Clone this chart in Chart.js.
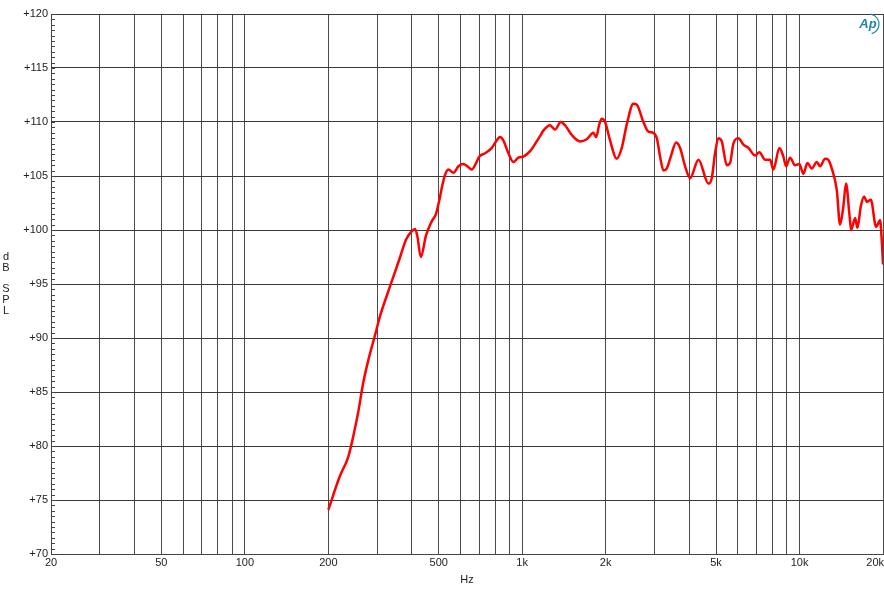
<!DOCTYPE html>
<html>
<head>
<meta charset="utf-8">
<script src="https://cdn.jsdelivr.net/npm/chart.js@4.4.0/dist/chart.umd.min.js"></script>
<style>
  html, body { margin: 0; padding: 0; background: #fff; }
  #wrap { width: 884px; height: 600px; }
</style>
</head>
<body>
<div id="wrap"><canvas id="chart" width="884" height="600"></canvas></div>
<script>
// frequency response
const freqHz = [200, 220, 236, 246, 257, 267, 279, 295, 307, 334, 363, 381, 400, 411, 419, 431, 450, 472, 489, 503,
  513, 527, 542, 565, 589, 614, 634, 658, 676, 701, 735, 777, 805, 832, 855, 892, 930, 969, 1010, 1068, 1128, 1160,
  1192, 1261, 1314, 1378, 1428,
  1509, 1617, 1709, 1806, 1847, 1898, 1936, 1990, 2074, 2193, 2286, 2384, 2518, 2590, 2736, 2852, 2972, 3058,
  3142, 3230, 3322, 3434, 3590, 3710, 3868, 4032, 4320, 4694, 4826, 4960, 5098, 5244, 5468, 5618, 5774, 6020,
  6276, 6542, 6916, 7168, 7514, 7832, 8050, 8462, 8746, 8946, 9248, 9638, 9988, 10326, 10674, 11070, 11540,
  11862, 12364, 12706, 13070, 13624, 14002, 14392, 14716, 15126, 15348, 15866, 16174, 16636, 17100, 17486,
  18074, 18886, 19526, 19800, 20000];
const splDb = [74.1, 77.2, 79.0, 80.9, 83.3, 85.8, 88.0, 90.3, 92.0, 94.8, 97.5, 99.1, 99.9, 100.1, 99.4, 97.5, 99.5, 100.8, 101.5, 102.8,
  103.9, 105.1, 105.6, 105.3, 105.9, 106.1, 105.9, 105.6, 106.0, 106.8, 107.1, 107.6, 108.2, 108.6, 108.3, 107.1, 106.3, 106.7, 106.8, 107.3, 108.2, 108.7,
  109.2, 109.7, 109.3, 110.0, 109.7,
  108.8, 108.2, 108.4, 109.0, 108.6, 109.8, 110.3, 110.0, 108.3, 106.6, 107.6, 109.8, 111.7, 111.6, 110.0, 109.1, 109.0, 108.5,
  106.8, 105.5, 105.7, 106.8, 108.1, 107.6, 105.9, 104.8, 106.5, 104.3, 104.8, 107.1, 108.5, 108.2, 106.0, 106.2, 108.0, 108.5,
  107.9, 107.6, 106.9, 107.2, 106.5, 106.5, 105.6, 107.6, 106.8, 105.9, 106.7, 106.0, 106.1, 105.2, 106.2, 105.7, 106.3,
  105.9, 106.6, 106.5, 105.7, 103.7, 100.5, 102.2, 104.3, 101.5, 100.0, 101.1, 100.2, 102.2, 103.1, 102.6,
  102.8, 100.3, 100.9, 99.0, 96.8];

const xGridHz = [20, 30, 40, 50, 60, 70, 80, 90, 100, 200, 300, 400, 500, 600, 700, 800, 900, 1000,
  2000, 3000, 4000, 5000, 6000, 7000, 8000, 9000, 10000, 20000];
const xLabelHz = [20, 50, 100, 200, 500, 1000, 2000, 5000, 10000, 20000];
const xLabelText = ['20', '50', '100', '200', '500', '1k', '2k', '5k', '10k', '20k'];
const yTicks = [70, 75, 80, 85, 90, 95, 100, 105, 110, 115, 120];
const yTitleLines = ['d', 'B', '', 'S', 'P', 'L'];

const FONT = "Arial, 'Liberation Sans', sans-serif";

// minor ticks, x labels, stacked axis title and the AP mark
const extras = {
  id: 'extras',
  afterDraw(chart) {
    const ctx = chart.ctx;
    const area = chart.chartArea;
    const x = chart.scales.x;
    const y = chart.scales.y;
    ctx.save();
    ctx.strokeStyle = '#444';
    ctx.lineWidth = 1;
    ctx.beginPath();
    for (let v = 70; v <= 120; v += 0.5) {
      const py = Math.round(y.getPixelForValue(v)) + 0.5;
      ctx.moveTo(area.left, py);
      ctx.lineTo(area.left + 4, py);
    }
    ctx.stroke();

    ctx.fillStyle = '#222';
    ctx.font = '11px ' + FONT;
    ctx.textBaseline = 'middle';
    xLabelHz.forEach((f, i) => {
      const last = i === xLabelHz.length - 1;
      ctx.textAlign = last ? 'right' : 'center';
      const px = last ? area.right + 1 : x.getPixelForValue(f);
      ctx.fillText(xLabelText[i], px, area.bottom + 9);
    });

    ctx.textAlign = 'center';
    yTitleLines.forEach((t, i) => ctx.fillText(t, 6, 257 + i * 10.7));

    // AP logo
    ctx.fillStyle = '#1f86a6';
    ctx.strokeStyle = '#1f86a6';
    ctx.font = 'italic bold 13px ' + FONT;
    ctx.fillText('Ap', area.right - 15, area.top + 10);
    ctx.lineWidth = 1.2;
    ctx.beginPath();
    ctx.arc(area.right - 14, area.top + 10, 10, -1.4, 1.3);
    ctx.stroke();
    ctx.restore();
  }
};

new Chart(document.getElementById('chart'), {
  type: 'line',
  data: {
    datasets: [{
      data: freqHz.map((f, i) => ({ x: f, y: splDb[i] })),
      borderColor: '#ff0000',
      borderWidth: 2.5,
      pointRadius: 0,
      cubicInterpolationMode: 'monotone',
      fill: false
    }]
  },
  options: {
    responsive: false,
    animation: false,
    layout: { padding: { top: 14, right: 1, left: 0, bottom: 0 } },
    plugins: { legend: { display: false }, tooltip: { enabled: false } },
    scales: {
      x: {
        type: 'logarithmic',
        min: 20,
        max: 20000,
        afterBuildTicks: s => { s.ticks = xGridHz.map(v => ({ value: v })); },
        afterFit: s => { s.height = 46; },
        ticks: { display: false },
        grid: { color: '#4a4a4a', lineWidth: 1, drawTicks: false },
        border: { color: '#444', width: 1 },
        title: { display: true, text: 'Hz', color: '#222', font: { family: FONT, size: 11 }, padding: { top: 4, bottom: 13 } }
      },
      y: {
        min: 70,
        max: 120,
        afterBuildTicks: s => { s.ticks = yTicks.map(v => ({ value: v })); },
        afterFit: s => { s.width = 51; },
        ticks: {
          padding: 3,
          color: '#222',
          font: { family: FONT, size: 11 },
          callback: v => '+' + v
        },
        grid: { color: '#3a3a3a', lineWidth: 1, drawTicks: false },
        border: { color: '#444', width: 1 }
      }
    }
  },
  plugins: [extras]
});
</script>
</body>
</html>
